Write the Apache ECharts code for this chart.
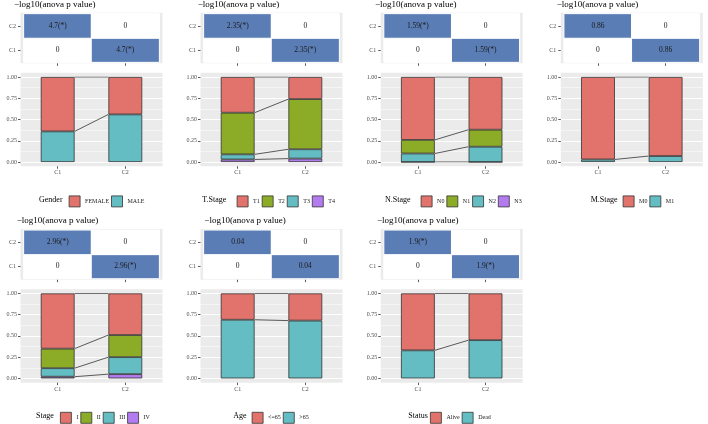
<!DOCTYPE html>
<html><head><meta charset="utf-8">
<script src="https://cdn.jsdelivr.net/npm/echarts@6/dist/echarts.min.js"></script>
<style>html,body{margin:0;padding:0;background:#fff}#c{width:708px;height:424px}</style>
</head><body><div id="c"></div>
<script>
// ---------------- data ----------------
const clusters = ['C1', 'C2'];
const variables = ['Gender', 'T.Stage', 'N.Stage', 'M.Stage', 'Stage', 'Age', 'Status'];
const heatmapTitle = '\u2212log10(anova p value)';
const anovaLogP = [4.7, 2.35, 1.59, 0.86, 2.96, 0.04, 1.9];
const significant = [true, true, true, false, true, false, true];

const genderLevels = ['FEMALE', 'MALE'];
const genderC1 = [0.64, 0.36];
const genderC2 = [0.44, 0.56];

const tStageLevels = ['T1', 'T2', 'T3', 'T4'];
const tStageC1 = [0.42, 0.49, 0.06, 0.03];
const tStageC2 = [0.26, 0.59, 0.11, 0.04];

const nStageLevels = ['N0', 'N1', 'N2', 'N3'];
const nStageC1 = [0.74, 0.16, 0.10, 0.00];
const nStageC2 = [0.62, 0.20, 0.18, 0.00];

const mStageLevels = ['M0', 'M1'];
const mStageC1 = [0.97, 0.03];
const mStageC2 = [0.93, 0.07];

const stageLevels = ['I', 'II', 'III', 'IV'];
const stageC1 = [0.65, 0.23, 0.10, 0.02];
const stageC2 = [0.49, 0.26, 0.20, 0.05];

const ageLevels = ['<=65', '>65'];
const ageC1 = [0.31, 0.69];
const ageC2 = [0.32, 0.68];

const statusLevels = ['Alive', 'Dead'];
const statusC1 = [0.67, 0.33];
const statusC2 = [0.55, 0.45];

// ---------------- style / layout ----------------
const pal2 = ['#E2736C', '#63BDC2'];
const pal4 = ['#E2736C', '#8CAB27', '#63BDC2', '#B37BF0'];
const BLUE = '#5B7DB5';
const GRAY = '#EBEBEB';
const FONT = '"Liberation Serif", "DejaVu Serif", serif';
const AXIS_TXT = '#4D4D4D';
const DARK = '#333333';

const panels = [
  {levels: genderLevels, c1: genderC1, c2: genderC2},
  {levels: tStageLevels, c1: tStageC1, c2: tStageC2},
  {levels: nStageLevels, c1: nStageC1, c2: nStageC2},
  {levels: mStageLevels, c1: mStageC1, c2: mStageC2},
  {levels: stageLevels, c1: stageC1, c2: stageC2},
  {levels: ageLevels, c1: ageC1, c2: ageC2},
  {levels: statusLevels, c1: statusC1, c2: statusC2}
];

const colLeft = [20.5, 200.5, 380.7, 560.8];
const panelRow = [0, 0, 0, 0, 1, 1, 1];
const panelCol = [0, 1, 2, 3, 0, 1, 2];
const rowOff = [0, 216.4];
const titleLeft = [14, 197.7, 375, 556.7, 16.7, 204.3, 377];
const legTitleLeft = [39, 202.3, 385, 590.7, 36, 233.3, 408.3];
const legBoxLeft = [68.7, 236.7, 420.7, 622.7, 60, 251.7, 430];
const PW = 142;
const HM_TOP = 12.7, HM_BOT = 63.3;
const BAR_Y1 = 77, BAR_Y0 = 162;
const XMIN = 0.45, XMAX = 2.55, BARW = 0.5;
const LEG_CY = 201;

const grid = [], xAxis = [], yAxis = [], series = [], title = [], legend = [];

function addGrid(left, top, w, h, bg) {
  grid.push({left: left, top: top, width: w, height: h, show: !!bg,
    backgroundColor: bg || 'transparent', borderWidth: 0,
    containLabel: false, outerBoundsMode: 'none'});
  return grid.length - 1;
}
const tickStyle = {color: DARK, width: 0.8};
const lblBase = {fontSize: 6, color: AXIS_TXT, fontFamily: FONT};

panels.forEach((pn, p) => {
  const off = rowOff[panelRow[p]];
  const L = colLeft[panelCol[p]];
  const n = pn.levels.length;
  const pal = n === 2 ? pal2 : pal4;
  const ix = PW * (0.5 - XMIN) / (XMAX - XMIN);

  // ---- heatmap background grid (carries axes) ----
  const hmH = HM_BOT - HM_TOP;
  const g0 = addGrid(L, HM_TOP + off, PW, hmH, GRAY);
  xAxis.push({type: 'value', gridIndex: g0, min: XMIN, max: XMAX,
    axisLine: {show: false}, splitLine: {show: false},
    axisTick: {show: true, customValues: [1, 2], length: 2.5, lineStyle: tickStyle},
    axisLabel: {show: false}});
  yAxis.push({type: 'value', gridIndex: g0, min: XMIN, max: XMAX,
    axisLine: {show: false}, splitLine: {show: false},
    axisTick: {show: true, customValues: [1, 2], length: 2.5, lineStyle: tickStyle},
    axisLabel: Object.assign({customValues: [1, 2], margin: 4.5,
      formatter: v => clusters[Math.round(v) - 1] || ''}, lblBase)});
  // ---- heatmap cells grid ----
  const iy = hmH * (0.5 - XMIN) / (XMAX - XMIN);
  const g1 = addGrid(L + ix, HM_TOP + off + iy, PW - 2 * ix, hmH - 2 * iy, null);
  xAxis.push({type: 'category', gridIndex: g1, data: clusters, show: false});
  yAxis.push({type: 'category', gridIndex: g1, data: clusters, show: false});
  const hv = anovaLogP[p];
  const lab = hv + (significant[p] ? '(*)' : '');
  const hdata = [];
  for (let xi = 0; xi < 2; xi++) for (let yi = 0; yi < 2; yi++) {
    const v = xi !== yi ? hv : 0;
    hdata.push({value: [xi, yi, v], itemStyle: {color: v !== 0 ? BLUE : '#FFFFFF'},
      label: {formatter: v !== 0 ? lab : '0'}});
  }
  series.push({type: 'heatmap', xAxisIndex: xAxis.length - 1, yAxisIndex: yAxis.length - 1,
    data: hdata, silent: true,
    itemStyle: {borderColor: '#FFFFFF', borderWidth: 1},
    label: {show: true, fontSize: 7.5, color: '#1A1A1A', fontFamily: FONT},
    emphasis: {disabled: true}});

  // ---- bar background grid (carries x axis) ----
  const bh = BAR_Y0 - BAR_Y1;
  const bgTop = BAR_Y1 - 0.05 * bh;
  const g2 = addGrid(L, bgTop + off, PW, bh * 1.1, GRAY);
  xAxis.push({type: 'value', gridIndex: g2, min: XMIN, max: XMAX,
    axisLine: {show: false}, splitLine: {show: false},
    axisTick: {show: true, customValues: [1, 2], length: 2.5, lineStyle: tickStyle},
    axisLabel: Object.assign({customValues: [1, 2], margin: 3.5,
      formatter: v => clusters[Math.round(v) - 1] || ''}, lblBase)});
  yAxis.push({type: 'value', gridIndex: g2, min: 0, max: 1, show: false});

  // ---- y-axis + link-line grid (full panel width) ----
  const g3 = addGrid(L, BAR_Y1 + off, PW, bh, null);
  xAxis.push({type: 'value', gridIndex: g3, min: XMIN, max: XMAX, show: false});
  yAxis.push({type: 'value', gridIndex: g3, min: 0, max: 1, interval: 0.25,
    axisLine: {show: false},
    axisTick: {show: true, length: 2.5, lineStyle: tickStyle},
    axisLabel: Object.assign({margin: 3.5, formatter: v => v.toFixed(2)}, lblBase),
    splitLine: {show: true, lineStyle: {color: '#FFFFFF', width: 1}},
    minorTick: {show: false, splitNumber: 2},
    minorSplitLine: {show: true, lineStyle: {color: '#FFFFFF', width: 0.5}}});
  const lx = xAxis.length - 1, ly = yAxis.length - 1;
  for (let k = 0; k < n; k++) {
    let s1 = 0, s2 = 0;
    for (let j = k; j < n; j++) { s1 += pn.c1[j]; s2 += pn.c2[j]; }
    series.push({type: 'line', name: 'link' + p + '_' + k, xAxisIndex: lx, yAxisIndex: ly,
      data: [[1 + BARW / 2, s1], [2 - BARW / 2, s2]], symbol: 'none', silent: true,
      lineStyle: {color: DARK, width: 0.8}, z: 3, emphasis: {disabled: true}});
  }

  // ---- stacked bar grid (category bands 0.5..2.5) ----
  const g4 = addGrid(L + ix, BAR_Y1 + off, PW - 2 * ix, bh, null);
  xAxis.push({type: 'category', gridIndex: g4, data: clusters, show: false});
  yAxis.push({type: 'value', gridIndex: g4, min: 0, max: 1, show: false});
  const bx = xAxis.length - 1, by = yAxis.length - 1;
  const barPx = BARW * PW / (XMAX - XMIN);
  for (let k = n - 1; k >= 0; k--) {
    series.push({type: 'bar', name: pn.levels[k], xAxisIndex: bx, yAxisIndex: by,
      stack: 'stk' + p, barWidth: barPx, silent: true,
      data: [pn.c1[k], pn.c2[k]],
      itemStyle: {color: pal[k], borderColor: DARK, borderWidth: 0.8, borderRadius: 0},
      emphasis: {disabled: true}});
  }

  // ---- titles ----
  title.push({text: heatmapTitle, left: titleLeft[p], top: off - 0.3, padding: 0,
    textStyle: {fontSize: 9, fontWeight: 'normal', color: '#000', fontFamily: FONT}});
  title.push({text: variables[p], left: legTitleLeft[p], top: LEG_CY + off - 5.2, padding: 0,
    textStyle: {fontSize: 8, fontWeight: 'normal', color: '#000', fontFamily: FONT}});
  // ---- legend ----
  legend.push({left: legBoxLeft[p], top: LEG_CY + off - 5.5, padding: 0, orient: 'horizontal',
    itemWidth: 11, itemHeight: 11, itemGap: 2, icon: 'rect', selectedMode: false,
    data: pn.levels.slice(),
    itemStyle: {borderColor: DARK, borderWidth: 0.8},
    textStyle: {fontSize: 6, color: '#1A1A1A', fontFamily: FONT}});
});

const chart = echarts.init(document.getElementById('c'), null, {renderer: 'canvas'});
chart.setOption({animation: false, backgroundColor: '#FFFFFF',
  grid: grid, xAxis: xAxis, yAxis: yAxis, series: series, title: title, legend: legend,
  tooltip: {show: false}});
</script></body></html>
